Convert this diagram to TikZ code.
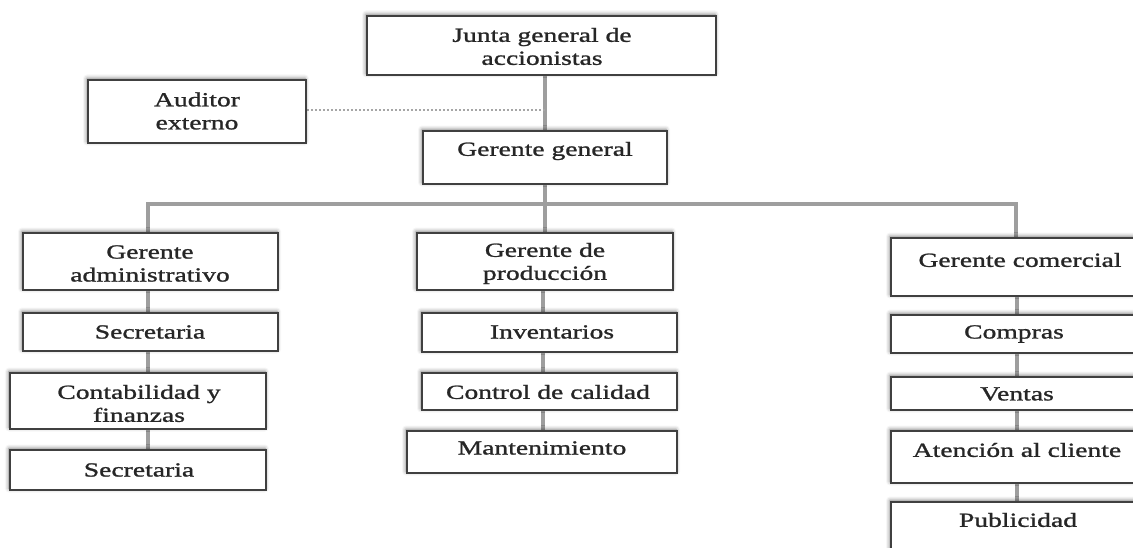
\documentclass[tikz,border=0pt]{standalone}
\usepackage{fontspec}
\setmainfont{Liberation Serif}[FakeStretch=1.38,FakeBold=1.2]
\usetikzlibrary{fit,shadows.blur}
\pgfdeclarelayer{bg}
\pgfsetlayers{bg,main}
\tikzset{
  box/.style={draw=black!75, line width=1.6pt, fill=white, inner sep=0pt,
    blur shadow={shadow xshift=-1pt, shadow yshift=1.5pt, shadow blur radius=4pt, shadow opacity=55}},
  txt/.style={align=center, font=\fontsize{20}{23}\selectfont, text=black!85, inner sep=0pt},
  conn/.style={draw=black!38, line width=3.2pt},
  dotline/.style={draw=black!35, line width=2.5pt, dash pattern=on 2pt off 2pt}
}
\begin{document}
\begin{tikzpicture}[x=1pt,y=-1pt]
\useasboundingbox (0,0) rectangle (1133,548);
% top
\node[box, fit={(367,16)(716,75)}] (junta) {};
\node[txt] (tjunta) at (542,46.5) {Junta general de\\accionistas};
\node[box, fit={(88,80)(306,143)}] (auditor) {};
\node[txt] (tauditor) at (197,111) {Auditor\\externo};
\node[box, fit={(423,131)(667,184)}] (gg) {};
\node[txt] (tgg) at (545,151) {Gerente general};
% left column
\node[box, fit={(23,233)(278,290)}] (gadm) {};
\node[txt] (tgadm) at (150,263.5) {Gerente\\administrativo};
\node[box, fit={(23,313)(278,351)}] (sec1) {};
\node[txt] (tsec1) at (150,332) {Secretaria};
\node[box, fit={(10,373)(266,429)}] (cont) {};
\node[txt] (tcont) at (139,403.5) {Contabilidad y\\finanzas};
\node[box, fit={(10,450)(266,490)}] (sec2) {};
\node[txt] (tsec2) at (139,470) {Secretaria};
% middle column
\node[box, fit={(417,233)(673,290)}] (gprod) {};
\node[txt] (tgprod) at (545,263.5) {Gerente de\\producción};
\node[box, fit={(422,313)(677,352)}] (inv) {};
\node[txt] (tinv) at (552,332) {Inventarios};
\node[box, fit={(422,373)(677,410)}] (cal) {};
\node[txt] (tcal) at (548,392) {Control de calidad};
\node[box, fit={(407,431)(677,473)}] (mant) {};
\node[txt] (tmant) at (542,448) {Mantenimiento};
% right column
\node[box, fit={(891,238)(1143,296)}] (gcom) {};
\node[txt] (tgcom) at (1020,260) {Gerente comercial};
\node[box, fit={(891,315)(1143,353)}] (comp) {};
\node[txt] (tcomp) at (1014,334) {Compras};
\node[box, fit={(891,377)(1143,410)}] (vent) {};
\node[txt] (tvent) at (1017,394) {Ventas};
\node[box, fit={(891,431)(1143,483)}] (aten) {};
\node[txt] (taten) at (1017,450) {Atención al cliente};
\node[box, fit={(891,502)(1143,562)}] (pub) {};
\node[txt] (tpub) at (1018,520) {Publicidad};
% connectors
\coordinate (barL) at (148,204);
\coordinate (barR) at (1016,204);
\coordinate (barM) at (545,204);
\coordinate (aud) at (545,110);
\coordinate (colL) at (148,0);
\coordinate (colM) at (543,0);
\coordinate (colR) at (1017,0);
\begin{pgfonlayer}{bg}
\draw[conn] (junta.south -| gg.north) -- (gg.north);
\draw[dotline] (auditor.east |- aud) -- (aud);
\draw[conn] (gg.south) -- (barM);
\draw[conn] (gadm.north -| barL) -- (barL) -- (barR) -- (gcom.north -| barR);
\draw[conn] (barM) -- (gprod.north -| barM);
\draw[conn] (gadm.south -| colL) -- (sec1.north -| colL);
\draw[conn] (sec1.south -| colL) -- (cont.north -| colL);
\draw[conn] (cont.south -| colL) -- (sec2.north -| colL);
\draw[conn] (gprod.south -| colM) -- (inv.north -| colM);
\draw[conn] (inv.south -| colM) -- (cal.north -| colM);
\draw[conn] (cal.south -| colM) -- (mant.north -| colM);
\draw[conn] (gcom.south -| colR) -- (comp.north -| colR);
\draw[conn] (comp.south -| colR) -- (vent.north -| colR);
\draw[conn] (vent.south -| colR) -- (aten.north -| colR);
\draw[conn] (aten.south -| colR) -- (pub.north -| colR);
\end{pgfonlayer}
\end{tikzpicture}
\end{document}
